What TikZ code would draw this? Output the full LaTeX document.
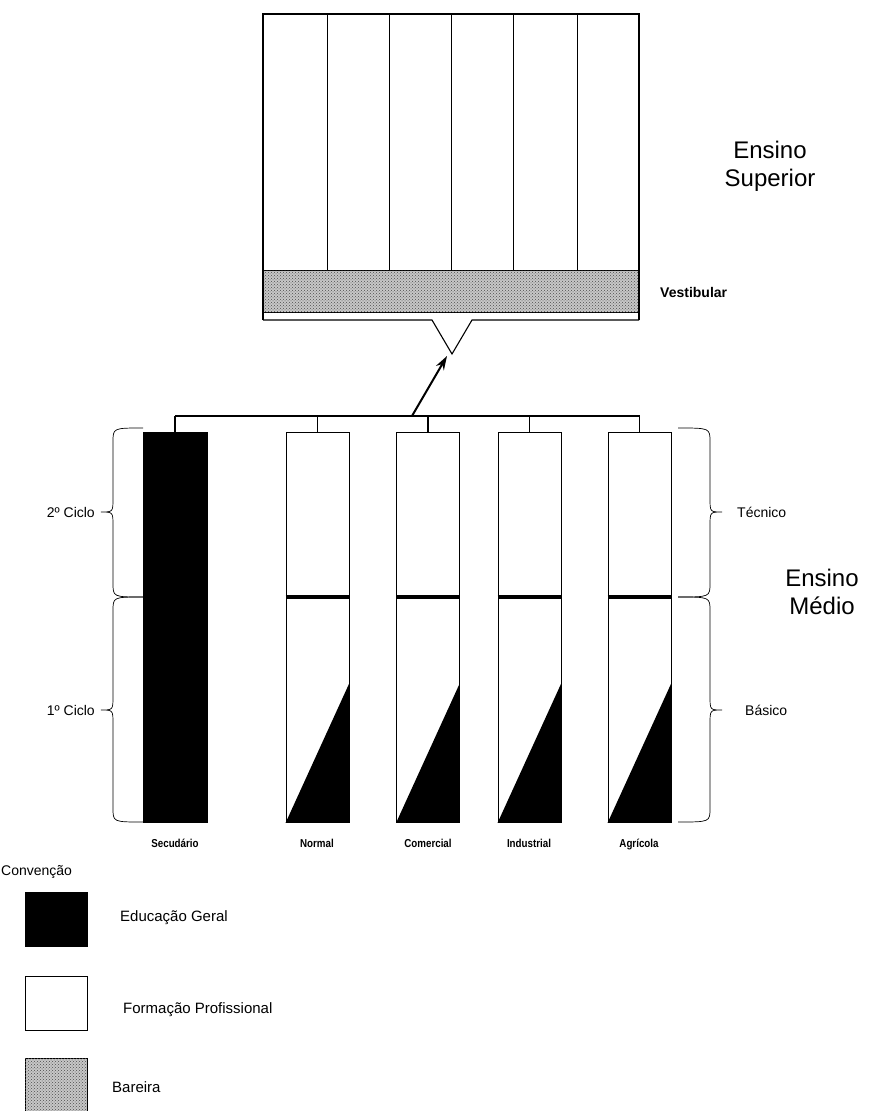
\documentclass[tikz,border=0pt]{standalone}
\usepackage{fontspec}
\setmainfont{Liberation Sans}
\usetikzlibrary{arrows.meta,patterns}
\begin{document}
\begin{tikzpicture}[x=1pt,y=-1pt,
  frame/.style={line width=1.1pt},
  divider/.style={line width=0.8pt},
  brc/.style={line width=0.7pt},
  stipple/.style={fill=black!22, postaction={pattern=crosshatch dots, pattern color=black!70}},
  sm/.style={font=\fontsize{14}{16}\selectfont, inner sep=0pt},
  big/.style={font=\fontsize{24}{28}\selectfont, align=center, inner sep=0pt},
  vlab/.style={font=\bfseries\fontsize{14}{16}\selectfont, inner sep=0pt},
  colname/.style={font=\bfseries\fontsize{11.5}{12}\selectfont, inner sep=0pt, xscale=0.85, anchor=base},
  leg/.style={font=\fontsize{15}{17}\selectfont, inner sep=0pt},
  bar/.style={draw, line width=0.8pt, minimum width=63pt, minimum height=390pt, inner sep=0pt, anchor=north},
  legbox/.style={draw, line width=0.8pt, minimum width=62pt, minimum height=54pt, inner sep=0pt},
  mid/.style={line width=4.5pt},
  arr/.style={line width=2pt, -{Stealth[length=14pt,width=9pt]}}
]
\useasboundingbox (0,0) rectangle (871,1111);

% ---------- Ensino Superior ----------
\node[stipple, draw, line width=0.9pt, minimum width=376pt, minimum height=42pt, inner sep=0pt, anchor=north west] (vest) at (263,270) {};
\draw[frame] (263,320) -- (263,14) -- (639,14) -- (639,320);
\foreach \x in {327,389,451,513,577} \draw[divider] (\x,14) -- (\x,270);
\coordinate (vtip) at (452,354);
\draw[frame] (263,320) -- (432,320) -- (vtip) -- (472,320) -- (639,320);
\node[big] (sup) at (770,166) {Ensino\\Superior};
\node[vlab, anchor=west] (vlab) at (660,292) {Vestibular};

% ---------- columns ----------
\node[bar, fill=black, minimum width=64pt] (sec) at (175,432) {};
\node[bar] (nor) at (317.5,432) {};
\node[bar] (com) at (428,432) {};
\node[bar] (ind) at (529.5,432) {};
\node[bar] (agr) at (639.5,432) {};

\foreach \n in {nor,com,ind,agr}{
  \fill (\n.south west) -- (\n.south east) -- (\n.east |- 0,683) -- cycle;
  \draw[mid] (\n.west |- 0,597) -- (\n.east |- 0,597);
}

% bus and arrow
\coordinate (busL) at (175,416);
\coordinate (busR) at (639.5,416);
\coordinate (busA) at (412,416);
\coordinate (arrEnd) at (447,356);
\draw[frame] (busL) -- (busR);
\foreach \n in {sec,nor,com,ind,agr} \draw[frame] (\n.north |- busL) -- (\n.north);
\draw[arr] (busA) -- (arrEnd);

% column names
\node[colname] at (175,847) {Secudário};
\node[colname] at (317,847) {Normal};
\node[colname] at (428,847) {Comercial};
\node[colname] at (529,847) {Industrial};
\node[colname] at (639,847) {Agrícola};

% ---------- braces left ----------
\draw[brc] (143,428) .. controls (113,428) .. (113,442) -- (113,498) .. controls (113,512) .. (101,512)
  .. controls (113,512) .. (113,526) -- (113,583) .. controls (113,597) .. (143,597);
\draw[brc] (143,597) .. controls (113,597) .. (113,611) -- (113,696) .. controls (113,710) .. (101,710)
  .. controls (113,710) .. (113,724) -- (113,808) .. controls (113,822) .. (143,822);
\node[sm, anchor=east] (c2) at (95,512) {2º Ciclo};
\node[sm, anchor=east] (c1) at (95,710) {1º Ciclo};

% ---------- braces right ----------
\draw[brc] (678,428) .. controls (710,428) .. (710,442) -- (710,498) .. controls (710,512) .. (722,512)
  .. controls (710,512) .. (710,526) -- (710,583) .. controls (710,597) .. (678,597);
\draw[brc] (678,597) .. controls (710,597) .. (710,611) -- (710,696) .. controls (710,710) .. (722,710)
  .. controls (710,710) .. (710,724) -- (710,808) .. controls (710,822) .. (678,822);
\node[sm, anchor=west] (tec) at (737,512) {Técnico};
\node[sm, anchor=west] (bas) at (745,710) {Básico};
\node[big] (med) at (822,592) {Ensino\\Médio};

% ---------- legend ----------
\node[sm, anchor=west] (conv) at (1,872) {Convenção};
\node[legbox, fill=black] (lg1) at (56,919) {};
\node[legbox] (lg2) at (56,1003) {};
\node[legbox, stipple, anchor=north] (lg3) at (56,1058) {};
\node[leg, anchor=west] at (120,918) {Educação Geral};
\node[leg, anchor=west] at (123,1010) {Formação Profissional};
\node[leg, anchor=west] at (112,1087) {Bareira};
\end{tikzpicture}
\end{document}
